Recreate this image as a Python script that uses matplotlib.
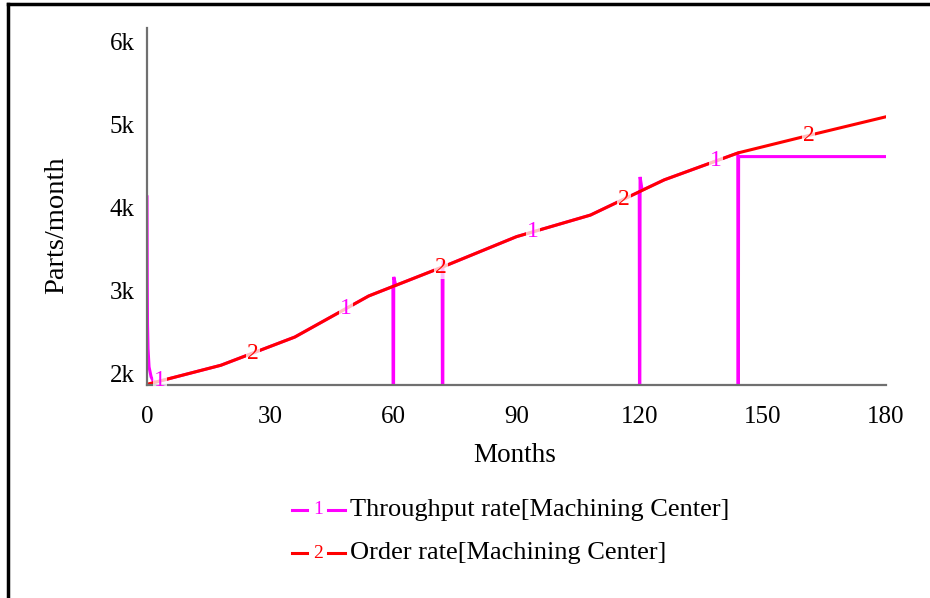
import numpy as np
import matplotlib
matplotlib.use("Agg")
import matplotlib.pyplot as plt
from matplotlib.lines import Line2D

plt.rcParams['font.family'] = ['Liberation Serif', 'DejaVu Serif']

# order rate, read at the kinks (every 18 months)
order_t = [0, 18, 36, 54, 72, 90, 108, 126, 144, 162, 180]
order_v = [1870, 2100, 2440, 2935, 3285, 3650, 3910, 4335, 4660, 4880, 5095]

# throughput rate: start-up transient, drops at 60/72/120/144, capped after 144
thru_t = [0, 0.0625, 0.125, 0.25, 0.5, 1, 1.5, 2, 18, 36, 54,
          59.9, 60, 60.1, 60.6, 71.9, 72, 72.1, 72.6, 90, 108,
          119.9, 120, 120.1, 120.6, 126, 143.9, 144, 144.1, 180]
thru_v = [4130, 3100, 2600, 2300, 2080, 1960, 1910, 1895, 2100, 2440, 2935,
          3050, 0, 3165, 3063, 3283, 0, 3360, 3297, 3650, 3910,
          4191, 0, 4370, 4210, 4335, 4658, 0, 4615, 4615]

x_ticks = [0, 30, 60, 90, 120, 150, 180]
y_ticks = [2000, 3000, 4000, 5000, 6000]
y_labels = ['2k', '3k', '4k', '5k', '6k']

# where the Vensim-style line numbers sit
mark1_t = [3.2, 48.5, 94, 138.6]
mark2_t = [25.8, 71.6, 116.2, 161.2]

pink = '#ff00ff'
red = '#ff0000'
W, H = 930, 598

fig = plt.figure(figsize=(9.3, 5.98), dpi=100)
ax = fig.add_axes([147 / W, 1 - 385 / H, (886 - 147) / W, (385 - 28) / H])

ax.plot(thru_t, thru_v, color=pink, lw=2.2, solid_joinstyle='miter')
ax.plot(order_t, order_v, color=red, lw=2.2)

for t in mark1_t:
    ax.text(t, np.interp(t, order_t, order_v), '1', color=pink, fontsize=17,
            ha='center', va='center',
            bbox=dict(facecolor='white', edgecolor='none', alpha=0.75, pad=0.5))
for t in mark2_t:
    ax.text(t, np.interp(t, order_t, order_v), '2', color=red, fontsize=17,
            ha='center', va='center',
            bbox=dict(facecolor='white', edgecolor='none', alpha=0.75, pad=0.5))

ax.set_xlim(0, 180)
ax.set_ylim(1862, 6165)
ax.set_xticks(x_ticks)
ax.set_yticks(y_ticks)
ax.set_yticklabels(y_labels)
ax.tick_params(axis='both', length=0, labelsize=18)
ax.tick_params(axis='x', pad=15)
ax.tick_params(axis='y', pad=9)
for s in ['top', 'right']:
    ax.spines[s].set_visible(False)
for s in ['left', 'bottom']:
    ax.spines[s].set_color('#707070')
    ax.spines[s].set_linewidth(1.6)

fig.text(515 / W, 1 - 456 / H, 'Months', fontsize=19.5, ha='center', va='center')
fig.text(57 / W, 1 - 225 / H, 'Parts/month', fontsize=20.5, ha='center',
         va='center', rotation=90)

# legend drawn by hand: -1- label
legend = [('1', pink, 'Throughput rate[Machining Center]', 510),
          ('2', red, 'Order rate[Machining Center]', 553)]
for num, col, label, py in legend:
    yy = 1 - py / H
    fig.add_artist(Line2D([292 / W, 307 / W], [yy, yy], color=col, lw=2.2))
    fig.add_artist(Line2D([328 / W, 345 / W], [yy, yy], color=col, lw=2.2))
    fig.text(318 / W, yy, num, color=col, fontsize=14, ha='center', va='center')
    fig.text(350 / W, yy, label, fontsize=19, ha='left', va='center')

# figure frame (only top and left edges are visible in the original)
fig.add_artist(Line2D([8 / W, 1], [1 - 4 / H, 1 - 4 / H], color='black', lw=2.5))
fig.add_artist(Line2D([8 / W, 8 / W], [0, 1 - 4 / H], color='black', lw=2.5))

fig.savefig('out.png', dpi=100)
